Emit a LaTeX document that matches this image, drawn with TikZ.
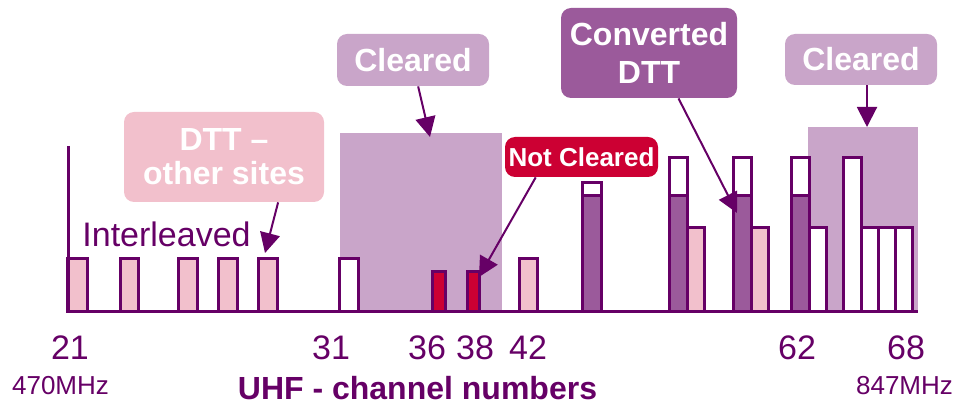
\documentclass[tikz,border=0pt]{standalone}
\usepackage{fontspec}
\setmainfont{Liberation Sans}
\usetikzlibrary{arrows.meta}
\definecolor{dkpurple}{HTML}{660066}
\definecolor{lilac}{HTML}{C9A5C9}
\definecolor{midpurple}{HTML}{9B5A9B}
\definecolor{rosepink}{HTML}{F2C0CC}
\definecolor{notred}{HTML}{CC0033}
\tikzset{
  bar/.style={draw=dkpurple, line width=1.5pt},
  tag/.style={rounded corners=5pt, text=white, font=\bfseries\fontsize{16}{19}\selectfont, align=center, inner sep=0pt},
  pointer/.style={draw=dkpurple, line width=1pt, -{Triangle[length=10pt,width=10pt]}},
  chan/.style={text=dkpurple, font=\fontsize{17}{20}\selectfont, anchor=base}
}
\begin{document}
\begin{tikzpicture}[x=0.5pt,y=0.5pt]
\tikzstyle{every node}+=[inner sep=0pt]
\useasboundingbox (0,0) rectangle (956,-405);
% cleared ranges
\fill [lilac] (340,-133) rectangle (502,-311);
\fill [lilac] (808,-127) rectangle (918,-311);
% interleaved channels
\draw [bar, fill=rosepink] (67,-259) rectangle (87,-311);
\draw [bar, fill=rosepink] (120,-259) rectangle (138,-311);
\draw [bar, fill=rosepink] (178,-259) rectangle (197,-311);
\draw [bar, fill=rosepink] (218,-259) rectangle (237,-311);
\draw [bar, fill=rosepink] (258,-259) rectangle (277,-311);
\draw [bar, fill=white] (339,-259) rectangle (358,-311);
\draw [bar, fill=notred] (432,-272) rectangle (445,-311);
\draw [bar, fill=notred] (467,-272) rectangle (479,-311);
\draw [bar, fill=rosepink] (519,-259) rectangle (537,-311);
% converted channels
\draw [bar, fill=white] (582,-183) rectangle (601,-196);
\draw [bar, fill=midpurple] (582,-196) rectangle (601,-311);
\draw [bar, fill=white] (669,-158) rectangle (687,-196);
\draw [bar, fill=midpurple] (669,-196) rectangle (687,-311);
\draw [bar, fill=rosepink] (687,-228) rectangle (704,-311);
\draw [bar, fill=white] (733,-158) rectangle (751,-196);
\draw [bar, fill=midpurple] (733,-196) rectangle (751,-311);
\draw [bar, fill=rosepink] (751,-228) rectangle (768,-311);
\draw [bar, fill=white] (791,-158) rectangle (809,-196);
\draw [bar, fill=midpurple] (791,-196) rectangle (809,-311);
\draw [bar, fill=white] (809,-228) rectangle (826,-311);
\draw [bar, fill=white] (843,-158) rectangle (861,-311);
\draw [bar, fill=white] (861,-228) rectangle (878,-311);
\draw [bar, fill=white] (878,-228) rectangle (895,-311);
\draw [bar, fill=white] (895,-228) rectangle (912,-311);
% axes
\draw [dkpurple, line width=1.5pt] (68,-146) -- (68,-311) -- (918,-311);
% label boxes
\node [tag, fill=lilac, minimum width=76pt, minimum height=26pt] (clearA) at (413,-60) {Cleared};
\node [tag, fill=rosepink, minimum width=100pt, minimum height=45pt] (dtt) at (224,-157) {\raisebox{-3pt}{DTT --}\\[-1pt]\raisebox{-2pt}{other sites}};
\node [tag, fill=notred, minimum width=76.5pt, minimum height=20pt, font=\bfseries\fontsize{13}{15}\selectfont] (notcl) at (581.5,-157) {Not Cleared};
\node [tag, fill=midpurple, minimum width=88pt, minimum height=45pt] (conv) at (649,-53) {Converted\\[0pt]DTT};
\node [tag, fill=lilac, minimum width=76pt, minimum height=25.5pt] (clearB) at (861,-59.5) {Cleared};
\node [text=dkpurple, font=\fontsize{17}{20}\selectfont, anchor=base west] (inter) at (82,-247) {Interleaved};
% arrow tips
\coordinate (tipA) at (430,-137);
\coordinate (tipD) at (265,-253);
\coordinate (tipN) at (479,-277);
\coordinate (tipC) at (737,-213);
\coordinate (tipB) at (867,-127);
\draw [pointer] (clearA.-79) -- (tipA);
\draw [pointer] (dtt.-40) -- (tipD);
\draw [pointer] (notcl.204) -- (tipN);
\draw [pointer] (conv.-57) -- (tipC);
\draw [pointer] (clearB.south -| tipB) -- (tipB);
% channel numbers
\node [chan] (c21) at (70,-359) {21};
\node [chan] (c31) at (331,-359) {31};
\node [chan] (c36) at (427,-359) {36};
\node [chan] (c38) at (475,-359) {38};
\node [chan] (c42) at (528,-359) {42};
\node [chan] (c62) at (797,-359) {62};
\node [chan] (c68) at (906,-359) {68};
\node [chan, font=\fontsize{13}{15}\selectfont] (flo) at (60.5,-394) {470MHz};
\node [chan, font=\fontsize{13}{15}\selectfont] (fhi) at (904.5,-394) {847MHz};
\node [chan, font=\bfseries\fontsize{16}{19}\selectfont] (uhf) at (417.5,-399) {UHF - channel numbers};
\end{tikzpicture}
\end{document}
